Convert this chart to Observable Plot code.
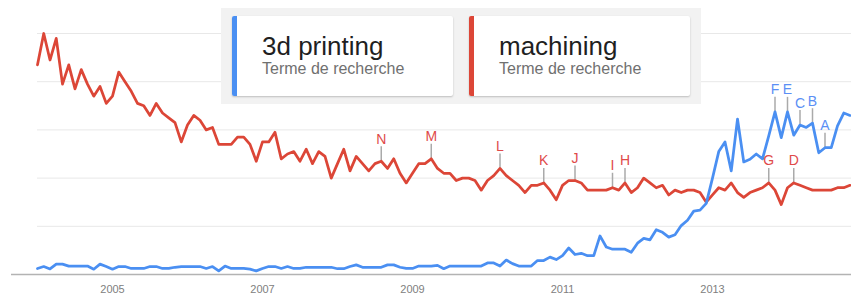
<!DOCTYPE html>
<html>
<head>
<meta charset="utf-8">
<script src="https://cdn.jsdelivr.net/npm/d3@7"></script>
<script src="https://cdn.jsdelivr.net/npm/@observablehq/plot@0.6"></script>
<style>
  body { margin: 0; background: #fff; font-family: "Liberation Sans", Arial, sans-serif; }
  #wrap { position: relative; width: 851px; height: 295px; overflow: hidden; }
  #chart svg { display: block; }
  #legend { position: absolute; left: 221px; top: 8px; width: 480px; height: 96px; background: #f2f2f2; }
  .card { position: absolute; top: 8px; width: 221px; height: 80px; background: #fff; border-radius: 2px;
          box-shadow: 0 1px 2px rgba(0,0,0,0.22); overflow: hidden; }
  .bar { position: absolute; left: 0; top: 0; bottom: 0; width: 5px; }
  .ttl { position: absolute; left: 30px; top: 17px; font-size: 26px; line-height: 26px; color: #1f1f1f; white-space: nowrap; }
  .sub { position: absolute; left: 30px; top: 45px; font-size: 16px; line-height: 16px; color: #707070; white-space: nowrap; }
</style>
</head>
<body>
<div id="wrap">
  <div id="chart"></div>
  <div id="legend"></div>
</div>
<script>
// Monthly Google Trends interest, first value = January 2004
const startYear = 2004;

const machining = [
  87, 100, 89, 98, 79, 87, 77, 85, 79, 74, 78, 71,
  74, 84, 80, 76, 71, 70, 66, 71, 67, 65, 63, 55,
  62, 66, 64, 60, 61, 54, 54, 54, 57, 57, 54, 47,
  55, 55, 59, 48, 50, 51, 47, 52, 46, 51, 49, 40,
  46, 52, 43, 49, 46, 43, 46, 47, 44, 48, 42, 38,
  42, 46, 46, 48, 44, 42, 42, 39, 40, 40, 39, 35,
  39, 41, 44, 41, 39, 37, 34, 37, 37, 38, 35, 31,
  37, 39, 39, 38, 35, 35, 35, 35, 36, 35, 38, 34,
  36, 40, 38, 36, 37, 33, 35, 34, 35, 35, 34, 30,
  33, 36, 35, 38, 34, 32, 34, 35, 36, 38, 35, 29,
  36, 38, 37, 36, 35, 35, 35, 35, 36, 36, 37
];

const printing = [
  2.5, 3.3, 2.3, 4.3, 4.3, 3.5, 3.5, 3.5, 3.5, 2.2, 4.3, 3.3,
  2.2, 3.3, 3.3, 2.5, 2.5, 2.5, 3.3, 3.3, 2.5, 2.5, 3.0, 3.3,
  3.3, 3.3, 3.3, 2.5, 3.3, 1.5, 3.5, 2.5, 2.5, 2.5, 2.2, 1.5,
  2.5, 3.3, 3.3, 2.5, 3.3, 2.5, 2.5, 3.0, 3.0, 3.0, 3.0, 3.0,
  2.4, 2.4, 3.3, 4.0, 3.0, 3.0, 3.0, 3.0, 4.0, 4.0, 3.0, 2.5,
  2.5, 3.5, 3.5, 3.5, 3.8, 2.4, 3.5, 3.5, 3.5, 3.5, 3.5, 3.5,
  4.8, 4.8, 3.5, 6.0, 4.5, 3.5, 3.5, 3.5, 5.8, 5.8, 7.2, 6.2,
  7.8, 11, 8.3, 8.8, 7.8, 7.8, 16, 11.4, 10.5, 10.5, 10.5, 9.2,
  13, 15, 14.4, 18.6, 17.5, 15.5, 16.5, 20.3, 22.5, 26.3, 26.7, 29.5,
  40, 51, 55, 43, 64.5, 46.7, 47.8, 50, 48, 57.5, 67.5, 56.8,
  67.5, 57.8, 62, 61, 62.8, 50.5, 52.6, 52.6, 61.7, 67, 66
];

// News markers: letter, series, month index (months since Jan 2004)
const markerLetters = ["N", "M", "L", "K", "J", "I", "H", "G", "D", "F", "E", "C", "B", "A"];
const markerSeries  = ["machining", "machining", "machining", "machining", "machining", "machining", "machining",
                       "machining", "machining", "printing", "printing", "printing", "printing", "printing"];
const markerMonth   = [55, 63, 74, 81, 86, 92, 94, 117, 121, 118, 120, 122, 124, 126];

const yearTicks = [2005, 2007, 2009, 2011, 2013];
const gridValues = [20, 40, 60, 80, 100];

const seriesNames  = ["3d printing", "machining"];
const seriesSub    = ["Terme de recherche", "Terme de recherche"];
const seriesColors = ["#4a8ff2", "#dc4637"];
const letterColors = { printing: "#5b8ff5", machining: "#e04a4a" };

const toX = i => startYear + i / 12;
const redData  = machining.map((v, i) => ({ x: toX(i), v }));
const blueData = printing.map((v, i) => ({ x: toX(i), v }));
const markers = markerLetters.map((t, k) => {
  const s = markerSeries[k], i = markerMonth[k];
  const v = (s === "machining" ? machining : printing)[i];
  return { t, s, x: toX(i), v };
});

const xStart = toX(0);

const chart = Plot.plot({
  width: 851,
  height: 295,
  marginLeft: 11,
  marginRight: 0,
  marginTop: 33,
  marginBottom: 21,
  style: { fontFamily: '"Liberation Sans", Arial, sans-serif', fontSize: "11px", color: "#808080", background: "transparent", overflow: "visible" },
  x: { domain: [startYear - 26 / 75, startYear + 814 / 75], ticks: yearTicks, tickFormat: d => String(d), tickSize: 0, tickPadding: 11, label: null },
  y: { domain: [0, 100], axis: null },
  marks: [
    Plot.ruleY(gridValues, { x1: xStart, x2: startYear + 814 / 75, stroke: "#e8e8e8", strokeWidth: 1 }),
    Plot.ruleY([0], { stroke: "#b3b3b3", strokeWidth: 1.5 }),
    Plot.ruleX(markers, { x: "x", y1: "v", y2: d => d.v + 6, stroke: "#aaaaaa", strokeWidth: 1.5 }),
    Plot.line(redData, { x: "x", y: "v", stroke: seriesColors[1], strokeWidth: 2.75, strokeLinejoin: "round" }),
    Plot.line(blueData, { x: "x", y: "v", stroke: seriesColors[0], strokeWidth: 2.75, strokeLinejoin: "round" }),
    Plot.text(markers, { x: "x", y: "v", text: "t", dy: -22, fill: d => letterColors[d.s], fontSize: 14 })
  ]
});
document.getElementById("chart").appendChild(chart);

// Legend cards
const legend = document.getElementById("legend");
seriesNames.forEach((name, k) => {
  const card = document.createElement("div");
  card.className = "card";
  card.style.left = (k === 0 ? 11 : 248) + "px";
  card.innerHTML = `<div class="bar" style="background:${seriesColors[k]}"></div>` +
    `<div class="ttl">${name}</div><div class="sub">${seriesSub[k]}</div>`;
  legend.appendChild(card);
});
</script>
</body>
</html>
